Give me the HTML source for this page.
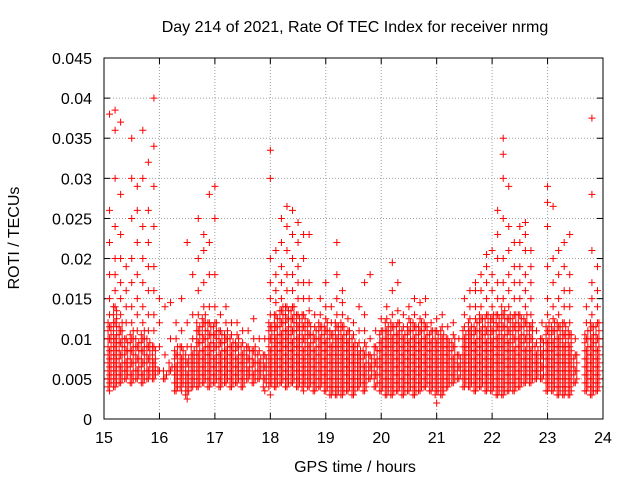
<!DOCTYPE html>
<html><head><meta charset="utf-8"><style>
body{margin:0;background:#fff}
svg{display:block;font-family:"Liberation Sans",sans-serif}
</style></head><body>
<svg id="chart" width="640" height="480" viewBox="0 0 640 480">
<rect width="640" height="480" fill="#fff"/>
<text x="355" y="32" text-anchor="middle" font-size="16">Day 214 of 2021, Rate Of TEC Index for receiver nrmg</text>
<text x="355" y="472" text-anchor="middle" font-size="16">GPS time / hours</text>
<text transform="translate(19,238) rotate(-90)" text-anchor="middle" font-size="16">ROTI / TECUs</text>
<g id="grid"></g><g id="ticks"></g><g id="marks"></g>
<rect x="104" y="58" width="499" height="361" fill="none" stroke="#000" stroke-width="1"/>
</svg>
<script>
const xTicks=[15,16,17,18,19,20,21,22,23,24];
const yTicks=[0,0.005,0.01,0.015,0.02,0.025,0.03,0.035,0.04,0.045];
const yTickLabels=["0","0.005","0.01","0.015","0.02","0.025","0.03","0.035","0.04","0.045"];
// time columns (hours)
const colTimes=[15.1,15.2,15.3,15.4,15.5,15.6,15.7,15.8,15.9,16.0,16.1,16.2,16.3,16.4,16.5,16.6,16.7,16.8,16.9,17.0,17.1,17.2,17.3,17.4,17.5,17.6,17.7,17.8,17.9,18.0,18.1,18.2,18.3,18.4,18.5,18.6,18.7,18.8,18.9,19.0,19.1,19.2,19.3,19.4,19.5,19.6,19.7,19.8,19.9,20.0,20.1,20.2,20.3,20.4,20.5,20.6,20.7,20.8,20.9,21.0,21.1,21.2,21.3,21.4,21.5,21.6,21.7,21.8,21.9,22.0,22.1,22.2,22.3,22.4,22.5,22.6,22.7,22.8,22.9,23.0,23.1,23.2,23.3,23.4,23.5,23.7,23.8,23.9];
// dense core of ROTI per column, lower and upper bound (0.001 TECU/min)
const bandLowMilli=[4,4,4.5,5,4.5,5,4.5,5,5,6,5,6,3.5,4,3,4,4,4.5,4,4.5,4,4.5,4,4.5,4,5,4.5,5,4,4,4,4.5,4,4.5,4,4,4,3.5,4,3.5,3,3,3,3.5,3,4,3.5,5,4,3.5,3,3,3.5,3,3.5,3,3.5,4,3.5,3,3,4,4.5,5,4,4,3.5,4,3.5,3.5,3,3,3.5,3.5,4,4.5,4.5,5,5,3.5,3.5,3,3,3,4.5,3.5,3,3.5];
const bandHighMilli=[12,14,12,10,11,10,11,10,9,6,6,7,9,9,8,9,12,13,12,12,11,11,10,10,9,9,9,8,8,12,13,14,14,14,13,13,12,11,12,12,11,12,12,11,10,9,9,8,9,11,12,12,12,11,12,12,12,12,11,11,11,10,10,8,11,12,12,13,13,13,13,14,13,13,13,13,12,9,10,12,12,12,12,11,8,11,12,12];
// scattered individual ROTI values per column (0.001 TECU/min)
const colRotiMilli=[
[3.5,4.5,5.5,6.5,7.5,8.5,10,11.5,13,15,18,22,26,38],
[4,5,6,7,8,9,10,12,14,16,18,20,24,30,36,38.5],
[4.5,5.5,6.5,8,9.5,11,13,15,17,20,23,28,37],
[5,6,7,8.5,10,12,14,16,19],
[4.5,5.5,7,8.5,10,12,14,17,20,25,30,35],
[5,6,7.5,9,11,13,15,18,22,26,29],
[4.5,5.5,7,8.5,10,12,14,17,20,24,30,36],
[5,6,7.5,9,11,13,16,19,22,26,32],
[5,6,7,9,11,13,16,19,24,29,34,40],
[6,9,12,15],
[5,8,14],
[6,10,14.5],
[3.5,4.5,5.5,6.5,8,10,12],
[3.5,4.5,5.5,6.5,7.5,9,11,15],
[2.5,3.5,4.5,5.5,7,9,12,22],
[4,5,6,7,8,10,13,18],
[4,5,6,7,8,9.5,11,13,16,20,25],
[4.5,5.5,6.5,7.5,8.5,10,12,14,17,21,23],
[4,5,6,7,8,9,10.5,12,14,18,22,28],
[4.5,5.5,6.5,7.5,9,10.5,12,14,18,25,29],
[4,5,6,7,8,9.5,11,13],
[4.5,5.5,6.5,7.5,8.5,10,12,14],
[4,5,6,7,8,9,10.5,12],
[4.5,5.5,6.5,7.5,9,10.5,12],
[4,5,6,7,8,9.5,11],
[5,6,7.5,9,11],
[4.5,5.5,7,8.5,10,12.5],
[5,6,7,8.5,10],
[3.5,5,6.5,8,10],
[3,4.5,5.5,6.5,7.5,8.5,10,11.5,13,15,17,20,30,33.5],
[4,5,6,7,8,9,10,11.5,13,14.5,16,18,21],
[4.5,5.5,6.5,7.5,8.5,9.5,10.5,12,13.5,15,17,19,22,25],
[4,5,6,7,8,9,10,11,12.5,14,16,18,21,24,26.5],
[4.5,5.5,6.5,7.5,8.5,9.5,11,12.5,14,16,18,20,23,26],
[4,5,6,7,8,9,10,11.5,13,15,17,19,22,24.5],
[3.5,4.5,5.5,6.5,7.5,8.5,10,11.5,13,15,17,20,23],
[4,5,6,7,8,9,10.5,12,13.5,15,17,23],
[3.5,4.5,5.5,6.5,7.5,8.5,10,11.5,13],
[4,5,6,7,8,9,10,11.5,13,15],
[3.5,4.5,5.5,6.5,7.5,8.5,9.5,11,12.5,14,17],
[3,4,5,6,7,8,9,10.5,12,14],
[3,4,5,6,7,8,9,10,11.5,13,15,18,22],
[3,4,5,6,7,8,9,10,11.5,13,14.5,16],
[3.5,4.5,5.5,6.5,7.5,8.5,9.5,11,12.5],
[3,4,5,6,7,8,9,10.5,12],
[4,5,6,7,8,9.5,11,14],
[3.5,4.5,5.5,6.5,8,9.5,11,13,17],
[5,6.5,8,10,18],
[4,5.5,7,9,11],
[3.5,4.5,5.5,6.5,7.5,8.5,9.5,11,12.5],
[3,4,5,6,7,8,9,10,11,12.5,14],
[3,4,5,6,7,8,9,10,11.5,13,16,19.5],
[3.5,4.5,5.5,6.5,7.5,8.5,9.5,10.5,12,13.5,17],
[3,4,5,6,7,8,9,10,11.5,13],
[3.5,4.5,5.5,6.5,7.5,8.5,9.5,11,12.5,14],
[3,4,5,6,7,8,9,10,11.5,13,15],
[3.5,4.5,5.5,6.5,7.5,8.5,9.5,11,12.5,14.5],
[4,5,6,7,8,9,10,11.5,13,15],
[3.5,4.5,5.5,6.5,7.5,8.5,9.5,11,12],
[2,3.5,4.5,5.5,6.5,7.5,8.5,9.5,11,12.5],
[3,4,5,6,7,8,9,10,11.5,13],
[4,5,6,7,8,9,10,11.5],
[4.5,5.5,6.5,7.5,9,10.5,12],
[5,6.5,8,10],
[4,5,6,7,8,9,10,11.5,13,15],
[4,5,6,7,8,9,10,11,12.5,14,16],
[3.5,4.5,5.5,6.5,7.5,8.5,9.5,11,12.5,14,16,17],
[4,5,6,7,8,9,10,11,12.5,14,16,18],
[3.5,4.5,5.5,6.5,7.5,8.5,9.5,11,13,15,17,19,20.5],
[3.5,4.5,5.5,6.5,7.5,8.5,9.5,11,12.5,14,16,18,21],
[3,4,5,6,7,8,9,10,11.5,13,15,17,20,23,26],
[3,4,5,6,7,8,9,10,11.5,13,15,17,20,25,30,33,35],
[3.5,4.5,5.5,6.5,7.5,8.5,9.5,11,12.5,14,16,18,21,24,29],
[3.5,4.5,5.5,6.5,7.5,8.5,10,11.5,13,15,17,19,22],
[4,5,6,7,8,9,10,11.5,13,15,17,19,22,24],
[4.5,5.5,6.5,7.5,8.5,10,12,14,16,18,21,23,24.5],
[4.5,5.5,6.5,7.5,8.5,10,11.5,13,15,17,19,21],
[5,6,7,8,9.5,11],
[5,6.5,8,10,12],
[3.5,4.5,5.5,6.5,7.5,8.5,9.5,11,13,15,19,24,27,29],
[3.5,4.5,5.5,6.5,7.5,8.5,9.5,11,12.5,14,17,20,26.5],
[3,4,5,6,7,8,9,10,11.5,13,15,18,21],
[3,4,5,6,7,8,9,10.5,12,14,16,19,22],
[3,4,5,6,7,8,9,10.5,12,14,16,18,23],
[4.5,6,8,10],
[3.5,4.5,5.5,6.5,7.5,8.5,10,12,14],
[3,4,5,6,7,8,9,10,11.5,13,15,17,21,28,37.5],
[3.5,4.5,5.5,6.5,7.5,8.5,10,12,14,16,19]
];
const NS="http://www.w3.org/2000/svg";
const X0=104,X1=603,Y0=419,Y1=58;
function xScale(t){return X0+(t-15)/(24-15)*(X1-X0);}
function yScale(v){return Y0-(v/0.045)*(Y0-Y1);}
function mk(tag,attrs,parent){const e=document.createElementNS(NS,tag);for(const k in attrs)e.setAttribute(k,attrs[k]);parent.appendChild(e);return e;}
const grid=document.getElementById('grid'),ticks=document.getElementById('ticks'),marks=document.getElementById('marks');
xTicks.forEach(t=>{
 const x=xScale(t);
 if(t>15&&t<24){const g=mk('line',{x1:x,x2:x,y1:Y0,y2:Y1,stroke:'#a0a0a0','stroke-dasharray':'1,2'},grid);
 
 }
 const a=mk('line',{x1:x,x2:x,y1:Y0,y2:Y0-6,stroke:'#000'},ticks);
 
 
 const b=mk('line',{x1:x,x2:x,y1:Y1,y2:Y1+6,stroke:'#000'},ticks);
 
 
 const l=mk('text',{x:x,y:443,'text-anchor':'middle','font-size':16},ticks);l.textContent=String(t);
 
 
});
yTicks.forEach((v,i)=>{
 const y=yScale(v);
 if(i>0&&i<yTicks.length-1){const g=mk('line',{x1:X0,x2:X1,y1:y,y2:y,stroke:'#a0a0a0','stroke-dasharray':'1,2'},grid);
 
 }
 const a=mk('line',{x1:X0,x2:X0+6,y1:y,y2:y,stroke:'#000'},ticks);
 
 
 const b=mk('line',{x1:X1,x2:X1-6,y1:y,y2:y,stroke:'#000'},ticks);
 
 
 const l=mk('text',{x:92,y:y+6,'text-anchor':'end','font-size':16},ticks);l.textContent=yTickLabels[i];
 
 
});
function plus(x,y,name){
 const p=mk('path',{d:`M${x-3.5},${y}h7M${x},${y-3.5}v7`,stroke:'#ff0000','stroke-width':1,fill:'none'},marks);
 
 
}
colTimes.forEach((t,i)=>{
 const x=xScale(t);
 const lo=bandLowMilli[i],hi=bandHighMilli[i];
 [-1.5,1.5].forEach((dx,k)=>{
  for(let m=lo+k*0.5;m<=hi;m+=1){plus(x+dx,yScale(m/1000),'roti-core-point');}
 });
 colRotiMilli[i].forEach(m=>{plus(x,yScale(m/1000),'roti-point');});
});
</script>
</body></html>
